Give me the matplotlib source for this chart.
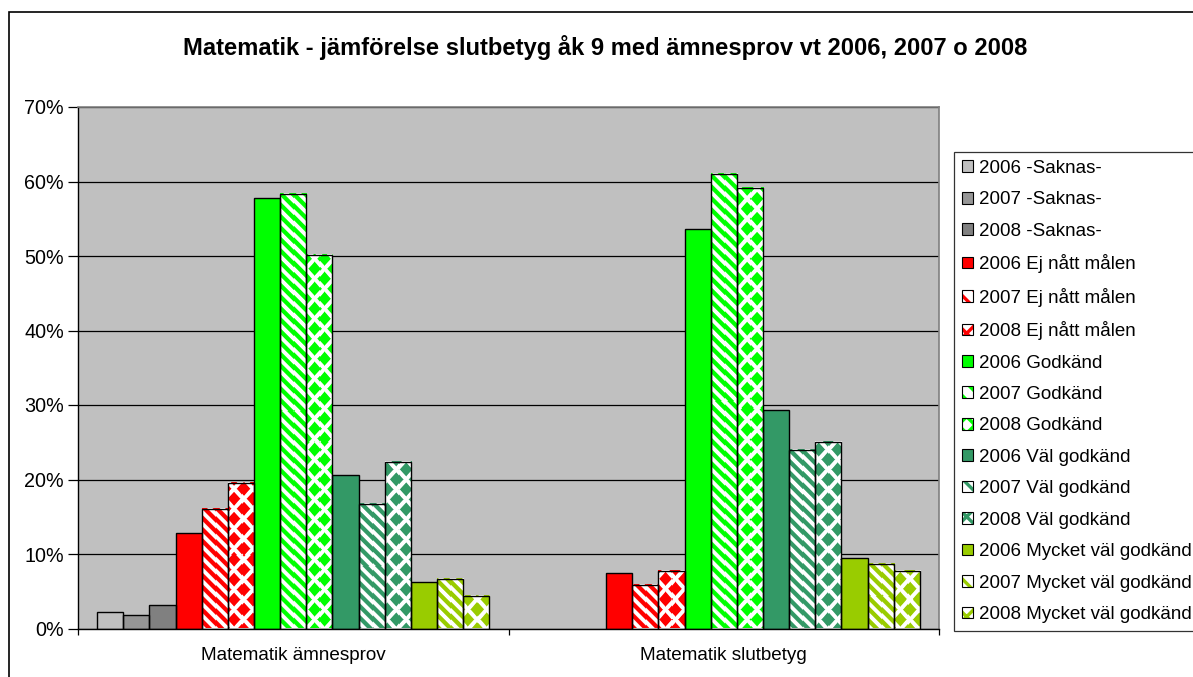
import numpy as np
import matplotlib
matplotlib.use("Agg")
import matplotlib.pyplot as plt
from matplotlib.patches import Patch, Rectangle
from matplotlib.legend_handler import HandlerTuple

plt.rcParams['font.family'] = ['Liberation Sans', 'DejaVu Sans']
plt.rcParams['hatch.linewidth'] = 2.4

# ---------------- data ----------------
title = "Matematik - jämförelse slutbetyg åk 9 med ämnesprov vt 2006, 2007 o 2008"
categories = ["Matematik ämnesprov", "Matematik slutbetyg"]
years = ["2006", "2007", "2008"]
grades = ["-Saknas-", "Ej nått målen", "Godkänd", "Väl godkänd", "Mycket väl godkänd"]

saknas = [[2.2, 0.0], [1.8, 0.0], [3.1, 0.0]]
ej_natt = [[12.8, 7.5], [16.1, 5.9], [19.5, 7.7]]
godkand = [[57.8, 53.6], [58.3, 61.0], [50.1, 59.1]]
val_godkand = [[20.6, 29.3], [16.7, 24.0], [22.4, 25.1]]
mycket_val = [[6.2, 9.5], [6.7, 8.6], [4.4, 7.7]]

y_ticks = [0, 10, 20, 30, 40, 50, 60, 70]
y_ticklabels = ["0%", "10%", "20%", "30%", "40%", "50%", "60%", "70%"]

# ---------------- style ----------------
grade_values = [saknas, ej_natt, godkand, val_godkand, mycket_val]
saknas_colors = ["#C0C0C0", "#969696", "#808080"]
grade_colors = [None, "#FF0000", "#00FF00", "#339966", "#99CC00"]
year_kinds = ["solid", "stripe", "diamond"]

W, H = 1193, 677
fig = plt.figure(figsize=(W / 100, H / 100), dpi=100)
ax = fig.add_axes([78 / W, 1 - 628.5 / H, (939 - 78) / W, (628.5 - 107) / H])
ax.set_facecolor("#C0C0C0")
ax.set_xlim(-0.5, 1.5)
ax.set_ylim(0, 70)

n_series = 15
bw = 1.0 / (15 + 1.47)
x_cat = np.arange(len(categories))


def pattern_img(color, kind, bbox):
    x0, x1, y0, y1 = bbox.x0, bbox.x1, bbox.y0, bbox.y1
    wpx = max(1, int(round(x1 - x0)))
    hpx = max(1, int(round(y1 - y0)))
    xs = x0 + (np.arange(wpx) + 0.5) * (x1 - x0) / wpx
    ys = (H - y1) + (np.arange(hpx) + 0.5) * (y1 - y0) / hpx
    X, Y = np.meshgrid(xs, ys)
    if kind == "stripe":
        P = 11.5
        t = (X - Y) / P
        d = np.abs((t % 1.0) - 0.5) * P / np.sqrt(2)
        hw = P / (4 * np.sqrt(2)) * 1.05
        amt = np.clip(hw - d + 0.5, 0, 1)
    else:
        px, py = 18.0, 20.0
        r = 0.7
        a = (X % px) - px / 2
        b = (Y % py) - py / 2
        d1 = np.abs(a) / (px / 2) + np.abs(b) / (py / 2)
        a2 = ((X + px / 2) % px) - px / 2
        b2 = ((Y + py / 2) % py) - py / 2
        d2 = np.abs(a2) / (px / 2) + np.abs(b2) / (py / 2)
        d = np.minimum(d1, d2)
        amt = np.clip((r - d) * (px / 2) * 0.8 + 0.5, 0, 1)
    c = np.array(matplotlib.colors.to_rgb(color))
    img = np.ones((hpx, wpx, 3)) * (1 - amt[..., None]) + c * amt[..., None]
    return img


handles = []
labels = []
idx = 0
for g, (gname, vals) in enumerate(zip(grades, grade_values)):
    for yi, year in enumerate(years):
        offs = (idx - (n_series - 1) / 2) * bw
        xpos = x_cat + offs
        heights = vals[yi]
        if g == 0:
            color = saknas_colors[yi]
            kind = "solid"
        else:
            color = grade_colors[g]
            kind = year_kinds[yi]
        face = color if kind == "solid" else "white"
        bars = ax.bar(xpos, heights, width=bw, color=face, edgecolor="none",
                      linewidth=0, zorder=2)
        if kind != "solid":
            for rect, hgt in zip(bars, heights):
                if hgt <= 0:
                    continue
                bb = rect.get_window_extent()
                img = pattern_img(color, kind, bb)
                ax.imshow(img, extent=(rect.get_x(), rect.get_x() + rect.get_width(), 0, hgt),
                          origin="upper", interpolation="nearest", aspect="auto", zorder=2.5)
        for rect, hgt in zip(bars, heights):
            if hgt <= 0:
                continue
            ax.add_patch(Rectangle((rect.get_x(), 0), rect.get_width(), hgt, fill=False,
                                   edgecolor="black", linewidth=1.0, zorder=3))
        # legend handle
        if kind == "solid":
            h = Patch(facecolor=color, edgecolor="black", linewidth=0.8)
        elif kind == "stripe":
            h = (Patch(facecolor="white", edgecolor=color, hatch="\\\\", linewidth=0),
                 Patch(fill=False, edgecolor="black", linewidth=0.8))
        else:
            h = (Patch(facecolor="white", edgecolor=color, hatch="xx", linewidth=0),
                 Patch(fill=False, edgecolor="black", linewidth=0.8))
        handles.append(h)
        labels.append(f"{year} {gname}")
        idx += 1

ax.set_xlim(-0.5, 1.5)
ax.set_ylim(0, 70)
ax.set_aspect("auto")

# grid and axes
ax.set_axisbelow(True)
ax.set_yticks(y_ticks)
ax.set_yticklabels(y_ticklabels, fontsize=14.2)
ax.yaxis.grid(True, color="black", linewidth=0.9, zorder=0)
ax.tick_params(axis="y", direction="out", length=7, width=0.9, pad=3.0, color="black")
ax.set_xticks(x_cat)
ax.set_xticklabels(categories, fontsize=13.6)
ax.tick_params(axis="x", which="major", length=0, pad=13.5)
ax.set_xticks([-0.5, 0.5, 1.5], minor=True)
ax.tick_params(axis="x", which="minor", direction="out", length=4, width=0.9, color="black")
for s in ["left", "bottom"]:
    ax.spines[s].set_color("black")
    ax.spines[s].set_linewidth(1.0)
for s in ["top", "right"]:
    ax.spines[s].set_color("#808080")
    ax.spines[s].set_linewidth(1.2)

# title
fig.text(605 / W, 1 - 47 / H, title, ha="center", va="center", fontsize=17.1, fontweight="bold")

# legend
leg = fig.legend(handles, labels, loc="upper left", bbox_to_anchor=(954 / W, 1 - 152 / H),
                 bbox_transform=fig.transFigure, borderaxespad=0, fontsize=13.5,
                 handlelength=0.58, handleheight=0.58, handletextpad=0.33,
                 labelspacing=0.77, borderpad=0.42, fancybox=False, frameon=True,
                 handler_map={tuple: HandlerTuple(ndivide=1, pad=0)})
leg.get_frame().set_edgecolor("black")
leg.get_frame().set_linewidth(0.9)

# chart frame
fig.add_artist(Rectangle((9 / W, -0.1), 1.2, 1 - 12 / H + 0.1, transform=fig.transFigure,
                         fill=False, edgecolor="black", linewidth=1.2))

fig.savefig("out.png", dpi=100)
